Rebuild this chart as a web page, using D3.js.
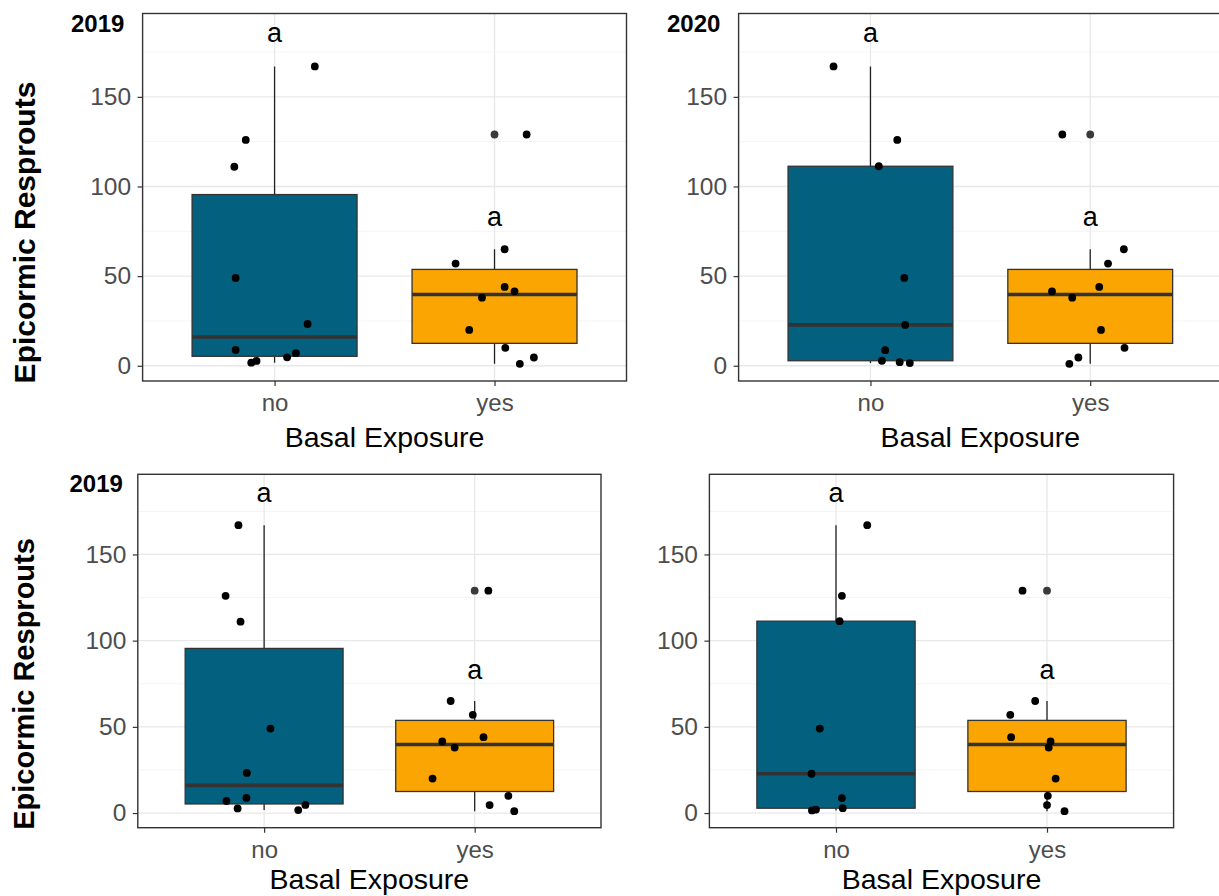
<!DOCTYPE html>
<html>
<head>
<meta charset="utf-8">
<script src="https://cdn.jsdelivr.net/npm/d3@7"></script>
<style>
  html, body { margin: 0; padding: 0; background: #ffffff; }
  svg { display: block; font-family: "Liberation Sans", Arial, sans-serif; }
</style>
</head>
<body>
<svg id="chart" width="1219" height="896"></svg>
<script>
// ---------------- data ----------------
const categories = ["no", "yes"];
const yTicks = [0, 50, 100, 150];
const yMinorTicks = [25, 75, 125, 175];
const panelTitles = ["2019", "2020", "2019", ""];
const xTitle = "Basal Exposure";
const yTitle = "Epicormic Resprouts";

// Epicormic resprouts per tree
const noValues2019 = [167, 126, 111, 49, 23.3, 8.8, 7.0, 4.7, 2.7, 1.7];
const noValues2020 = [167, 126, 111.3, 49, 22.8, 8.7, 2.8, 2.0, 1.5];
const yesValues = [129, 65, 57, 44, 41.5, 38, 20, 10, 4.6, 1.1];

// horizontal jitter (in category units), same order as values
const jitterP1no  = [0.183, -0.131, -0.183, -0.177, 0.150, -0.177, 0.097, 0.057, -0.082, -0.106];
const jitterP1yes = [0.146, 0.046, -0.177, 0.046, 0.091, -0.057, -0.115, 0.049, 0.179, 0.115];
const jitterP2no  = [-0.168, 0.122, 0.038, 0.154, 0.158, 0.067, 0.052, 0.133, 0.179];
const jitterP2yes = [-0.127, 0.153, 0.081, 0.041, -0.174, -0.082, 0.049, 0.156, -0.054, -0.095];
const jitterP3no  = [-0.122, -0.183, -0.112, 0.030, -0.082, -0.084, -0.179, 0.196, -0.126, 0.162];
const jitterP3yes = [0.065, -0.114, -0.009, 0.042, -0.154, -0.095, -0.200, 0.160, 0.071, 0.188];
const jitterP4no  = [0.148, 0.028, 0.017, -0.077, -0.116, 0.028, 0.032, -0.095, -0.114];
const jitterP4yes = [-0.116, -0.056, -0.174, -0.170, 0.017, 0.008, 0.041, 0.004, 0.000, 0.083];

// significance letters and their y positions
const letterLabels = ["a", "a"];
const letterY = [185, 82];

const fillColors = ["#03607e", "#fba502"];

// ---------------- layout ----------------
const panels = [
  { l: 142.6, r: 626.5, t: 13.5, b: 381, title: panelTitles[0], titleX: 71, titleY: 31.5,
    groups: [noValues2019, yesValues], jitter: [jitterP1no, jitterP1yes], yLab: true, yLabX: 34.5, yLabY: 232.5, yLabSize: 30, xTitleY: 446.5 },
  { l: 738.6, r: 1222.1, t: 13.5, b: 381, title: panelTitles[1], titleX: 667, titleY: 31.5,
    groups: [noValues2020, yesValues], jitter: [jitterP2no, jitterP2yes], yLab: false, xTitleY: 446.5 },
  { l: 137.8, r: 601, t: 474.3, b: 827.7, title: panelTitles[2], titleX: 69.5, titleY: 491.5,
    groups: [noValues2019, yesValues], jitter: [jitterP3no, jitterP3yes], yLab: true, yLabX: 34, yLabY: 684, yLabSize: 29, xTitleY: 889 },
  { l: 709.4, r: 1173.6, t: 474.3, b: 827.7, title: panelTitles[3], titleX: 0, titleY: 0,
    groups: [noValues2020, yesValues], jitter: [jitterP4no, jitterP4yes], yLab: false, xTitleY: 889 }
];

const svg = d3.select("#chart");
svg.append("rect").attr("width", 1219).attr("height", 896).attr("fill", "#ffffff");

function boxStats(vals) {
  const s = vals.slice().sort(d3.ascending);
  const q1 = d3.quantile(s, 0.25), med = d3.quantile(s, 0.5), q3 = d3.quantile(s, 0.75);
  const iqr = q3 - q1;
  const lo = q1 - 1.5 * iqr, hi = q3 + 1.5 * iqr;
  const inside = s.filter(v => v >= lo && v <= hi);
  return { q1, med, q3, wLo: d3.min(inside), wHi: d3.max(inside), outliers: s.filter(v => v < lo || v > hi) };
}

panels.forEach((p, pi) => {
  const g = svg.append("g");
  const clipId = "clip" + pi;
  svg.append("clipPath").attr("id", clipId)
    .append("rect").attr("x", p.l).attr("y", p.t).attr("width", p.r - p.l).attr("height", p.b - p.t);

  const x = d3.scaleLinear().domain([0.4, 2.6]).range([p.l, p.r]);
  const y = d3.scaleLinear().domain([-8.5, 196.5]).range([p.b, p.t]);
  const xc = i => x(i + 1);

  const inner = g.append("g").attr("clip-path", `url(#${clipId})`);

  // minor grid
  inner.selectAll(".ymin").data(yMinorTicks).join("line")
    .attr("x1", p.l).attr("x2", p.r).attr("y1", d => y(d)).attr("y2", d => y(d))
    .attr("stroke", "#f1f1f1").attr("stroke-width", 0.8);
  // major grid
  inner.selectAll(".ymaj").data(yTicks).join("line")
    .attr("x1", p.l).attr("x2", p.r).attr("y1", d => y(d)).attr("y2", d => y(d))
    .attr("stroke", "#e8e8e8").attr("stroke-width", 1.3);
  inner.selectAll(".xmaj").data(categories).join("line")
    .attr("x1", (d, i) => xc(i)).attr("x2", (d, i) => xc(i)).attr("y1", p.t).attr("y2", p.b)
    .attr("stroke", "#e8e8e8").attr("stroke-width", 1.3);

  // boxplots
  p.groups.forEach((vals, gi) => {
    const st = boxStats(vals);
    const cx = xc(gi);
    const hw = x(1 + 0.375) - x(1);
    inner.append("line").attr("x1", cx).attr("x2", cx).attr("y1", y(st.q3)).attr("y2", y(st.wHi))
      .attr("stroke", "#222").attr("stroke-width", 1.3);
    inner.append("line").attr("x1", cx).attr("x2", cx).attr("y1", y(st.q1)).attr("y2", y(st.wLo))
      .attr("stroke", "#222").attr("stroke-width", 1.3);
    inner.append("rect").attr("x", cx - hw).attr("width", 2 * hw)
      .attr("y", y(st.q3)).attr("height", y(st.q1) - y(st.q3))
      .attr("fill", fillColors[gi]).attr("stroke", "#333333").attr("stroke-width", 1.3);
    inner.append("line").attr("x1", cx - hw).attr("x2", cx + hw).attr("y1", y(st.med)).attr("y2", y(st.med))
      .attr("stroke", "#333333").attr("stroke-width", 3.6);
    inner.selectAll(null).data(st.outliers).join("circle")
      .attr("cx", cx).attr("cy", d => y(d)).attr("r", 3.9).attr("fill", "#3a3a3a");
  });

  // jittered points
  p.groups.forEach((vals, gi) => {
    inner.selectAll(null).data(vals).join("circle")
      .attr("cx", (d, i) => x(gi + 1 + p.jitter[gi][i]))
      .attr("cy", d => y(d)).attr("r", 3.9).attr("fill", "#000000");
  });

  // letters
  g.selectAll(null).data(letterLabels).join("text")
    .attr("x", (d, i) => xc(i)).attr("y", (d, i) => y(letterY[i]))
    .attr("dy", "0.28em").attr("text-anchor", "middle")
    .attr("font-size", 27).attr("fill", "#000").text(d => d);

  // panel border
  g.append("rect").attr("x", p.l).attr("y", p.t).attr("width", p.r - p.l).attr("height", p.b - p.t)
    .attr("fill", "none").attr("stroke", "#333333").attr("stroke-width", 1.4);

  // y axis ticks & labels
  const yAxis = g.append("g").attr("transform", `translate(${p.l},0)`)
    .call(d3.axisLeft(y).tickValues(yTicks).tickSize(5).tickPadding(6.5).tickFormat(d3.format("d")));
  yAxis.select(".domain").remove();
  yAxis.selectAll(".tick line").attr("stroke", "#333333").attr("stroke-width", 1.2);
  yAxis.selectAll(".tick text").attr("font-size", 24.5).attr("fill", "#4d4d4d")
    .attr("font-family", "Liberation Sans, Arial, sans-serif");

  // x axis ticks & labels
  const xBand = d3.scalePoint().domain(categories).range([xc(0), xc(1)]);
  const xAxis = g.append("g").attr("transform", `translate(0,${p.b})`)
    .call(d3.axisBottom(xBand).tickSize(5).tickPadding(8));
  xAxis.select(".domain").remove();
  xAxis.selectAll(".tick line").attr("stroke", "#333333").attr("stroke-width", 1.2);
  xAxis.selectAll(".tick text").attr("font-size", 24).attr("fill", "#4d4d4d")
    .attr("font-family", "Liberation Sans, Arial, sans-serif");

  // x title
  g.append("text").attr("x", (p.l + p.r) / 2).attr("y", p.xTitleY)
    .attr("text-anchor", "middle").attr("font-size", 28.5).attr("fill", "#000").text(xTitle);

  // y title
  if (p.yLab) {
    g.append("text").attr("transform", `translate(${p.yLabX},${p.yLabY}) rotate(-90)`)
      .attr("text-anchor", "middle").attr("font-size", p.yLabSize).attr("font-weight", "bold")
      .attr("fill", "#000").text(yTitle);
  }

  // panel title
  if (p.title) {
    g.append("text").attr("x", p.titleX).attr("y", p.titleY)
      .attr("font-size", 24).attr("font-weight", "bold").attr("fill", "#000").text(p.title);
  }
});
</script>
</body>
</html>
